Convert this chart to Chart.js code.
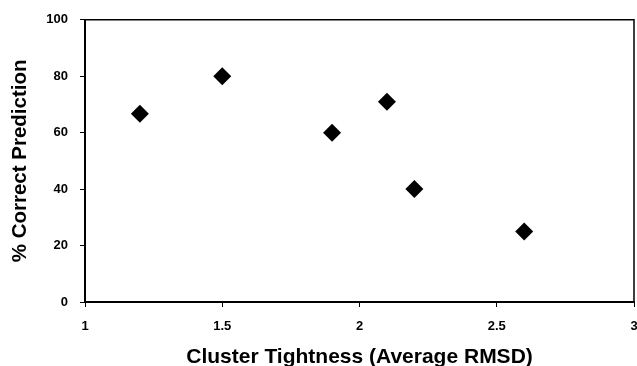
<!DOCTYPE html>
<html>
<head>
<meta charset="utf-8">
<script src="https://cdn.jsdelivr.net/npm/chart.js@4"></script>
<style>
  html, body { margin: 0; padding: 0; background: #fff; }
  #wrap { width: 637px; height: 366px; }
</style>
</head>
<body>
<div id="wrap"><canvas id="chart"></canvas></div>
<script>
// Values
const tightness = [1.2, 1.5, 1.9, 2.1, 2.2, 2.6];
const correct = [66.7, 80, 60, 71, 40, 25];
const xTicks = [1, 1.5, 2, 2.5, 3];
const yTicks = [0, 20, 40, 60, 80, 100];

const FONT = "'Liberation Sans', Arial, sans-serif";

// Draws the thin top and right edges of the plot box
const frame = {
    id: 'frame',
    afterDraw(c) {
        const a = c.chartArea;
        const ctx = c.ctx;
        ctx.save();
        ctx.strokeStyle = '#000';
        ctx.lineWidth = 1.5;
        ctx.beginPath();
        ctx.moveTo(a.left, a.top);
        ctx.lineTo(a.right, a.top);
        ctx.lineTo(a.right, a.bottom);
        ctx.stroke();
        ctx.restore();
    }
};

const points = tightness.map((x, i) => ({ x: x, y: correct[i] }));

new Chart(document.getElementById("chart"), {
    type: 'scatter',
    data: {
        datasets: [{
            data: points,
            pointStyle: 'rectRot',
            pointRadius: 9,
            pointHoverRadius: 9,
            backgroundColor: '#000',
            borderColor: '#000',
            borderWidth: 0
        }]
    },
    options: {
        responsive: true,
        maintainAspectRatio: false,
        animation: false,
        layout: { autoPadding: false, padding: { top: 19, right: 3, left: 0, bottom: 0 } },
        plugins: { legend: { display: false }, tooltip: { enabled: false } },
        scales: {
            x: {
                type: 'linear',
                min: 1, max: 3,
                afterBuildTicks: ax => { ax.ticks = xTicks.map(v => ({ value: v })); },
                afterFit: ax => { ax.height = 64; ax.paddingRight = 0; },
                border: { display: true, color: '#000', width: 2 },
                grid: { drawOnChartArea: false, drawTicks: true, tickLength: 5, color: '#000', lineWidth: 1 },
                ticks: {
                    color: '#000', padding: 12,
                    callback: v => String(v),
                    font: { family: FONT, size: 13, weight: 'bold' }
                },
                title: {
                    display: true,
                    text: 'Cluster Tightness (Average RMSD)',
                    color: '#000',
                    padding: { top: 8, bottom: -4 },
                    font: { family: FONT, size: 21, weight: 'bold' }
                }
            },
            y: {
                min: 0, max: 100,
                afterBuildTicks: ax => { ax.ticks = yTicks.map(v => ({ value: v })); },
                afterFit: ax => { ax.width = 85; },
                border: { display: true, color: '#000', width: 2 },
                grid: { drawOnChartArea: false, drawTicks: true, tickLength: 5, color: '#000', lineWidth: 1 },
                ticks: { color: '#000', padding: 12, font: { family: FONT, size: 13, weight: 'bold' } },
                title: {
                    display: true,
                    text: '% Correct Prediction',
                    color: '#000',
                    padding: { top: 8, bottom: 0 },
                    font: { family: FONT, size: 20.5, weight: 'bold' }
                }
            }
        }
    },
    plugins: [frame]
});
</script>
</body>
</html>
